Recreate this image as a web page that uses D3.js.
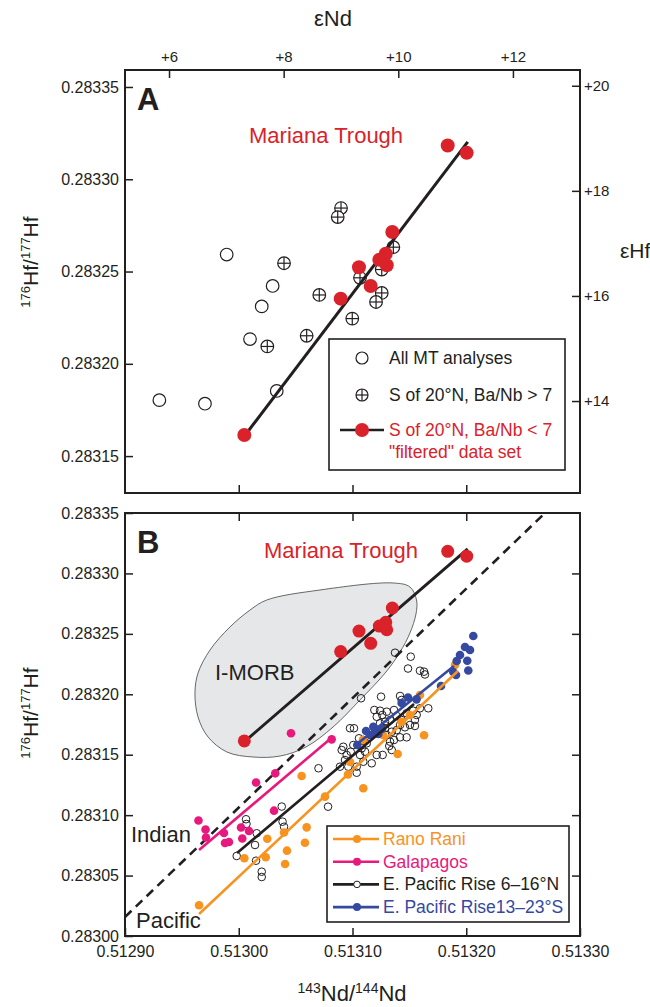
<!doctype html>
<html>
<head>
<meta charset="utf-8">
<script src="https://d3js.org/d3.v7.min.js"></script>
<style>
  body { margin: 0; background: #fff; }
  text { font-family: "Liberation Sans", Arial, Helvetica, sans-serif; fill: #231f20; }
</style>
</head>
<body>
<script>

// ---- data (143Nd/144Nd, 176Hf/177Hf) ----
var ndTicks = [0.51290, 0.51300, 0.51310, 0.51320, 0.51330];
var hfTicksA = [0.28315, 0.28320, 0.28325, 0.28330, 0.28335];
var hfTicksB = [0.28300, 0.28305, 0.28310, 0.28315, 0.28320, 0.28325, 0.28330, 0.28335];
var eNdTicks = [6, 8, 10, 12];
var eHfTicks = [14, 16, 18, 20];

var mtAll = [
  [0.5129894, 0.2832592], [0.5130298, 0.2832422], [0.5130202, 0.2832311],
  [0.5130099, 0.2832134], [0.5129302, 0.2831803], [0.5129703, 0.2831784],
  [0.5130334, 0.2831853]
];
var mtBaNbHigh = [
  [0.5130899, 0.2832844], [0.5130870, 0.2832795], [0.5130398, 0.2832545],
  [0.5131359, 0.2832632], [0.5131257, 0.2832511], [0.5131066, 0.2832466],
  [0.5130708, 0.2832373], [0.5131257, 0.2832384], [0.5131207, 0.2832335],
  [0.5130998, 0.2832245], [0.5130597, 0.2832152], [0.5130251, 0.2832094]
];
var mtFiltered = [
  [0.5131837, 0.2833183], [0.5132004, 0.2833143], [0.5131350, 0.2832714],
  [0.5131292, 0.2832596], [0.5131236, 0.2832564], [0.5131301, 0.2832534],
  [0.5131057, 0.2832523], [0.5131160, 0.2832422], [0.5130896, 0.2832353],
  [0.5130049, 0.2831614]
];
var mtFit = [[0.5130084, 0.2831636], [0.5132013, 0.2833203]];

var galapagos = [
  [0.5129646, 0.2830956], [0.5129708, 0.2830881], [0.5129712, 0.2830815],
  [0.5129870, 0.2830852], [0.5129879, 0.2830769], [0.5129914, 0.2830778],
  [0.5130020, 0.2830898], [0.5130031, 0.2830807], [0.5130090, 0.2830869],
  [0.5130152, 0.2831270], [0.5130310, 0.2831037], [0.5130321, 0.2831346],
  [0.5130459, 0.2831677], [0.5130817, 0.2831627]
];
var galapagosFit = [[0.5129651, 0.2830712], [0.5130793, 0.2831622]];

var ranoRani = [
  [0.5129651, 0.2830254], [0.5130049, 0.2830643], [0.5130237, 0.2830651],
  [0.5130251, 0.2830805], [0.5130398, 0.2830856], [0.5130407, 0.2830596],
  [0.5130424, 0.2830706], [0.5130582, 0.2830772], [0.5130597, 0.2830899],
  [0.5130758, 0.2831153], [0.5130553, 0.2831324], [0.5130960, 0.2831336],
  [0.5130978, 0.2831440], [0.5131095, 0.2831222], [0.5131092, 0.2831622],
  [0.5131268, 0.2831663], [0.5131397, 0.2831506], [0.5131432, 0.2831773],
  [0.5131505, 0.2831829], [0.5131593, 0.2831994], [0.5131629, 0.2831661],
  [0.5131901, 0.2832242]
];
var ranoRaniFit = [[0.5129651, 0.2830182], [0.5131927, 0.2832193]];

var epr6to16N = [
  [0.5131374, 0.2832344], [0.5131512, 0.2832311], [0.5131488, 0.2832213],
  [0.5131593, 0.2832195], [0.5131629, 0.2832187], [0.5131637, 0.2832164],
  [0.5131075, 0.2831967], [0.5131251, 0.2831980], [0.5131418, 0.2831986],
  [0.5131432, 0.2831953], [0.5131666, 0.2831884], [0.5131593, 0.2831884],
  [0.5131192, 0.2831870], [0.5131242, 0.2831864], [0.5131301, 0.2831856],
  [0.5131365, 0.2831870], [0.5131262, 0.2831829], [0.5131213, 0.2831814],
  [0.5131389, 0.2831820], [0.5131476, 0.2831843], [0.5131534, 0.2831864],
  [0.5131564, 0.2831829], [0.5131330, 0.2831787], [0.5131432, 0.2831787],
  [0.5131286, 0.2831773], [0.5131549, 0.2831787], [0.5131242, 0.2831760],
  [0.5131418, 0.2831746], [0.5131505, 0.2831746], [0.5131461, 0.2831727],
  [0.5131549, 0.2831738], [0.5130978, 0.2831719], [0.5131013, 0.2831719],
  [0.5131286, 0.2831719], [0.5131389, 0.2831704], [0.5131345, 0.2831690],
  [0.5131476, 0.2831644], [0.5131418, 0.2831644], [0.5131301, 0.2831663],
  [0.5131365, 0.2831622], [0.5131057, 0.2831636], [0.5131095, 0.2831622],
  [0.5131125, 0.2831594], [0.5131330, 0.2831608], [0.5131323, 0.2831572],
  [0.5131345, 0.2831539], [0.5130919, 0.2831566], [0.5130905, 0.2831539],
  [0.5131007, 0.2831580], [0.5130984, 0.2831525], [0.5131081, 0.2831553],
  [0.5131110, 0.2831525], [0.5131066, 0.2831498], [0.5130949, 0.2831498],
  [0.5130934, 0.2831456], [0.5131095, 0.2831442], [0.5131213, 0.2831498],
  [0.5131265, 0.2831498], [0.5131169, 0.2831429], [0.5131037, 0.2831401],
  [0.5130963, 0.2831401], [0.5131037, 0.2831351], [0.5130890, 0.2831401],
  [0.5130701, 0.2831388], [0.5130785, 0.2831070], [0.5130378, 0.2831071],
  [0.5130064, 0.2830966], [0.5130068, 0.2830927], [0.5130158, 0.2830850],
  [0.5130385, 0.2830946], [0.5130398, 0.2830904], [0.5129982, 0.2830662],
  [0.5130143, 0.2830753], [0.5130152, 0.2830623], [0.5130202, 0.2830532],
  [0.5130202, 0.2830488]
];
var epr6to16NFit = [[0.5129985, 0.2830687], [0.5131541, 0.2831920]];

var epr13to23S = [
  [0.5132062, 0.2832482], [0.5131989, 0.2832391], [0.5132033, 0.2832366],
  [0.5131945, 0.2832325], [0.5132009, 0.2832278], [0.5131916, 0.2832275],
  [0.5132018, 0.2832197], [0.5131886, 0.2832184], [0.5131910, 0.2832160],
  [0.5131778, 0.2832069], [0.5131563, 0.2831958], [0.5131488, 0.2831973],
  [0.5131432, 0.2831928], [0.5131183, 0.2831732], [0.5131198, 0.2831690],
  [0.5131227, 0.2831671], [0.5131154, 0.2831663], [0.5131119, 0.2831696],
  [0.5131042, 0.2831580], [0.5131259, 0.2831713]
];
var epr13to23SFit = [[0.5131040, 0.2831589], [0.5131892, 0.2832234]];

var imorbField = [
  [0.5130246, 0.2832780], [0.5130714, 0.2832863], [0.5131356, 0.2832921],
  [0.5131505, 0.2832888], [0.5131563, 0.2832780], [0.5131558, 0.2832664],
  [0.5131505, 0.2832507], [0.5131418, 0.2832350], [0.5131294, 0.2832184],
  [0.5131066, 0.2831953], [0.5130829, 0.2831729], [0.5130591, 0.2831564],
  [0.5130363, 0.2831489], [0.5130125, 0.2831481], [0.5129897, 0.2831522],
  [0.5129730, 0.2831647], [0.5129642, 0.2831812], [0.5129615, 0.2832011],
  [0.5129642, 0.2832176], [0.5129747, 0.2832366], [0.5129923, 0.2832557],
  [0.5130099, 0.2832697]
];
var indianPacific = [[0.5129000, 0.2830157], [0.5132692, 0.2833500]];

// ---- colours ----
var ink = "#231f20", red = "#d9222a", orange = "#f7931e",
    pink = "#e8197d", blue = "#3549a0";

var svg = d3.select("body").append("svg")
    .attr("width", 650)
    .attr("height", 1007);

var left = 125, right = 580;
var x = d3.scaleLinear().domain([0.51290, 0.51330]).range([left, right]);
var yA = d3.scaleLinear().domain([0.28313, 0.2833592]).range([493, 70]);
var yB = d3.scaleLinear().domain([0.28300, 0.28335]).range([936, 513]);
var eNd = d3.scaleLinear().domain([5.232, 13.17]).range([left, right]);
var eHf = d3.scaleLinear().domain([12.25, 20.30]).range([493, 70]);

var fmt5 = d3.format(".5f");
var plus = function(d) { return "+" + d; };

function styleAxis(size) {
  return function(g) {
    g.select(".domain").remove();
    g.selectAll(".tick line").attr("stroke", ink).attr("stroke-width", 1.5);
    g.selectAll(".tick text").attr("font-size", size + "px").attr("fill", ink)
      .attr("font-family", "'Liberation Sans', Arial, sans-serif");
  };
}

function frame(top, bottom) {
  svg.append("rect")
     .attr("x", left).attr("y", top)
     .attr("width", right - left).attr("height", bottom - top)
     .attr("fill", "none").attr("stroke", ink).attr("stroke-width", 2);
}

function line(g, pts, y, color, width, dash) {
  g.append("path")
   .datum(pts)
   .attr("d", d3.line().x(function(d) { return x(d[0]); }).y(function(d) { return y(d[1]); }))
   .attr("fill", "none")
   .attr("stroke", color)
   .attr("stroke-width", width)
   .attr("stroke-dasharray", dash || null);
}

function dots(g, pts, y, r, fill, stroke, sw) {
  g.selectAll(null)
   .data(pts)
   .enter().append("circle")
   .attr("cx", function(d) { return x(d[0]); })
   .attr("cy", function(d) { return y(d[1]); })
   .attr("r", r)
   .attr("fill", fill)
   .attr("stroke", stroke || "none")
   .attr("stroke-width", sw || 0);
}

function crossed(g, cx, cy, r) {
  g.append("circle").attr("cx", cx).attr("cy", cy).attr("r", r)
   .attr("fill", "#fff").attr("stroke", ink).attr("stroke-width", 1.2);
  g.append("line").attr("x1", cx - r).attr("x2", cx + r).attr("y1", cy).attr("y2", cy)
   .attr("stroke", ink).attr("stroke-width", 1.2);
  g.append("line").attr("x1", cx).attr("x2", cx).attr("y1", cy - r).attr("y2", cy + r)
   .attr("stroke", ink).attr("stroke-width", 1.2);
}

function isoLabel(g, sup1, base1, sup2, base2, size) {
  var t = g.append("text").attr("font-size", size + "px");
  var s = Math.round(size * 0.62);
  t.append("tspan").attr("font-size", s + "px").attr("dy", -size * 0.38).text(sup1);
  t.append("tspan").attr("dy", size * 0.38).text(base1);
  t.append("tspan").attr("font-size", s + "px").attr("dy", -size * 0.38).text(sup2);
  t.append("tspan").attr("dy", size * 0.38).text(base2);
  return t;
}

// ================= Panel A =================
var gA = svg.append("g");

gA.append("g").attr("transform", "translate(" + left + ",0)")
  .call(d3.axisLeft(yA).tickValues(hfTicksA).tickFormat(fmt5).tickSizeInner(-8).tickSizeOuter(0).tickPadding(6))
  .call(styleAxis(16));
gA.append("g").attr("transform", "translate(0,493)")
  .call(d3.axisBottom(x).tickValues(ndTicks.slice(1, 4)).tickFormat("").tickSizeInner(-8).tickSizeOuter(0))
  .call(styleAxis(16));
gA.append("g").attr("transform", "translate(0,70)")
  .call(d3.axisTop(eNd).tickValues(eNdTicks).tickFormat(plus).tickSizeInner(-8).tickSizeOuter(0).tickPadding(8))
  .call(styleAxis(15));
gA.append("g").attr("transform", "translate(" + right + ",0)")
  .call(d3.axisRight(eHf).tickValues(eHfTicks).tickFormat(plus).tickSizeInner(-8).tickSizeOuter(0).tickPadding(4))
  .call(styleAxis(15));
frame(70, 493);

gA.append("text").attr("x", 333).attr("y", 26).attr("text-anchor", "middle")
  .attr("font-size", "22px").text("εNd");
gA.append("text").attr("x", 620).attr("y", 258)
  .attr("font-size", "21px").text("εHf");
isoLabel(gA, "176", "Hf/", "177", "Hf", 21)
  .attr("text-anchor", "middle")
  .attr("transform", "translate(38,262) rotate(-90)");

gA.append("text").attr("x", 137).attr("y", 110)
  .attr("font-size", "31px").attr("font-weight", "bold").text("A");
gA.append("text").attr("x", 249).attr("y", 143)
  .attr("font-size", "22px").style("fill", red).text("Mariana Trough");

dots(gA, mtAll, yA, 6.3, "#fff", ink, 1.2);
mtBaNbHigh.forEach(function(d) { crossed(gA, x(d[0]), yA(d[1]), 6.3); });
line(gA, mtFit, yA, ink, 3);
dots(gA, mtFiltered, yA, 7, red);

// legend A
var lgA = gA.append("g");
lgA.append("rect").attr("x", 329).attr("y", 339).attr("width", 236).attr("height", 131)
   .attr("fill", "#fff").attr("stroke", ink).attr("stroke-width", 1.6);
lgA.append("circle").attr("cx", 362).attr("cy", 358).attr("r", 6)
   .attr("fill", "#fff").attr("stroke", ink).attr("stroke-width", 1.2);
crossed(lgA, 362, 395, 6);
lgA.append("line").attr("x1", 340).attr("x2", 384).attr("y1", 430).attr("y2", 430)
   .attr("stroke", ink).attr("stroke-width", 2.5);
lgA.append("circle").attr("cx", 362).attr("cy", 430).attr("r", 7).attr("fill", red);
lgA.append("text").attr("x", 389).attr("y", 364).attr("font-size", "17.5px").text("All MT analyses");
lgA.append("text").attr("x", 389).attr("y", 401).attr("font-size", "17.5px").text("S of 20°N, Ba/Nb > 7");
lgA.append("text").attr("x", 389).attr("y", 436).attr("font-size", "17.5px").style("fill", red)
   .text("S of 20°N, Ba/Nb < 7");
lgA.append("text").attr("x", 389).attr("y", 458).attr("font-size", "17.5px").style("fill", red)
   .text("\"filtered\" data set");

// ================= Panel B =================
var gB = svg.append("g");

gB.append("path")
  .datum(imorbField)
  .attr("d", d3.line().x(function(d) { return x(d[0]); }).y(function(d) { return yB(d[1]); })
                .curve(d3.curveCatmullRomClosed))
  .attr("fill", "#e6e7e8").attr("stroke", "#444").attr("stroke-width", 0.8);

gB.append("g").attr("transform", "translate(" + left + ",0)")
  .call(d3.axisLeft(yB).tickValues(hfTicksB).tickFormat(fmt5).tickSizeInner(-8).tickSizeOuter(0).tickPadding(6))
  .call(styleAxis(16));
gB.append("g").attr("transform", "translate(" + right + ",0)")
  .call(d3.axisRight(yB).tickValues(hfTicksB.slice(1, 7)).tickFormat("").tickSizeInner(-8).tickSizeOuter(0))
  .call(styleAxis(16));
gB.append("g").attr("transform", "translate(0,936)")
  .call(d3.axisBottom(x).tickValues(ndTicks).tickFormat(fmt5).tickSizeInner(-8).tickSizeOuter(0).tickPadding(10))
  .call(styleAxis(16));
gB.append("g").attr("transform", "translate(0,513)")
  .call(d3.axisTop(x).tickValues(ndTicks.slice(1, 4)).tickFormat("").tickSizeInner(-8).tickSizeOuter(0))
  .call(styleAxis(16));

isoLabel(gB, "176", "Hf/", "177", "Hf", 21)
  .attr("text-anchor", "middle")
  .attr("transform", "translate(38,713) rotate(-90)");
isoLabel(gB, "143", "Nd/", "144", "Nd", 22)
  .attr("text-anchor", "middle")
  .attr("x", 352).attr("y", 1001);

// clip for the dashed line
svg.append("clipPath").attr("id", "clipB").append("rect")
   .attr("x", left).attr("y", 508).attr("width", right - left + 10).attr("height", 428);
var dash = gB.append("g").attr("clip-path", "url(#clipB)");
line(dash, indianPacific, yB, ink, 2.6, "9,6");

gB.append("text").attr("x", 215).attr("y", 680).attr("font-size", "22px").text("I-MORB");
gB.append("text").attr("x", 131).attr("y", 842).attr("font-size", "22px").text("Indian");
gB.append("text").attr("x", 136).attr("y", 928).attr("font-size", "22px").text("Pacific");

dots(gB, epr6to16N, yB, 3.8, "none", ink, 1);
dots(gB, ranoRani, yB, 4.3, orange);
dots(gB, galapagos, yB, 4.3, pink);
dots(gB, epr13to23S, yB, 4.3, blue);
line(gB, ranoRaniFit, yB, orange, 2.6);
line(gB, galapagosFit, yB, pink, 2.6);
line(gB, epr6to16NFit, yB, ink, 2.6);
line(gB, epr13to23SFit, yB, blue, 2.6);
line(gB, mtFit, yB, ink, 3);
dots(gB, mtFiltered, yB, 6.5, red);

gB.append("text").attr("x", 137).attr("y", 553)
  .attr("font-size", "31px").attr("font-weight", "bold").text("B");
gB.append("text").attr("x", 264).attr("y", 558)
  .attr("font-size", "22px").style("fill", red).text("Mariana Trough");

frame(513, 936);

// legend B
var lgB = gB.append("g");
lgB.append("rect").attr("x", 327).attr("y", 826).attr("width", 242).attr("height", 96)
   .attr("fill", "#fff").attr("stroke", ink).attr("stroke-width", 1.6);
var legB = [
  { label: "Rano Rani", color: orange, text: orange, open: false },
  { label: "Galapagos", color: pink, text: pink, open: false },
  { label: "E. Pacific Rise 6–16°N", color: ink, text: ink, open: true },
  { label: "E. Pacific Rise13–23°S", color: blue, text: blue, open: false }
];
legB.forEach(function(d, i) {
  var yy = 839 + i * 22.7;
  lgB.append("line").attr("x1", 333).attr("x2", 379).attr("y1", yy).attr("y2", yy)
     .attr("stroke", d.color).attr("stroke-width", 2.6);
  lgB.append("circle").attr("cx", 357).attr("cy", yy).attr("r", d.open ? 3.3 : 4)
     .attr("fill", d.open ? "#fff" : d.color).attr("stroke", d.open ? ink : "none").attr("stroke-width", 1);
  lgB.append("text").attr("x", 383).attr("y", yy + 6).attr("font-size", "17.5px")
     .style("fill", d.text).text(d.label);
});

</script>
</body>
</html>
